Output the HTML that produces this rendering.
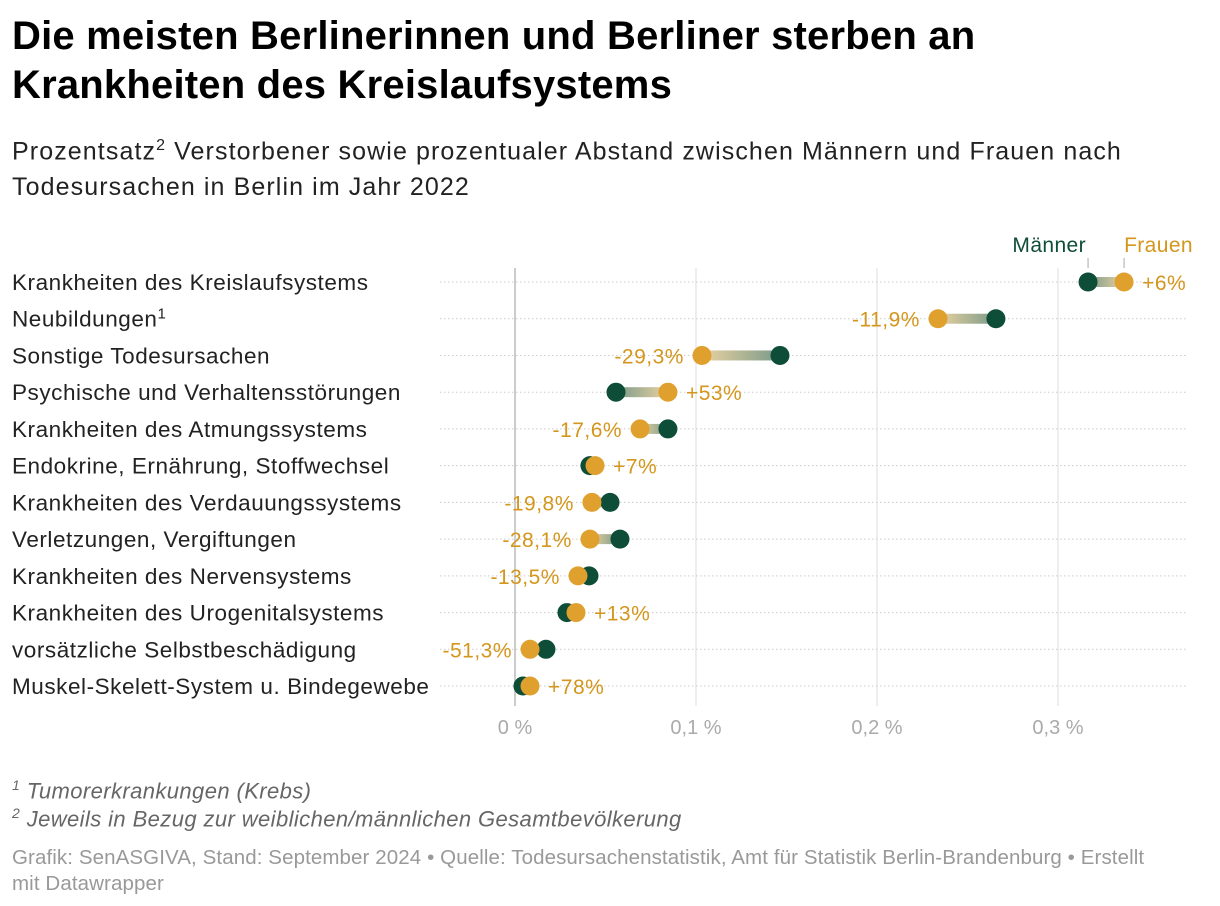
<!DOCTYPE html>
<html><head><meta charset="utf-8"><style>
body{margin:0;width:1220px;height:906px;background:#fff;font-family:"Liberation Sans",sans-serif;overflow:hidden;position:relative}
h1{position:absolute;left:12px;top:12px;margin:0;font-size:40px;line-height:49px;font-weight:bold;color:#000;width:1100px;letter-spacing:0.2px}
.sub{position:absolute;left:12px;top:128px;font-size:25px;line-height:36px;color:#222;width:1200px;letter-spacing:1.1px}
.sub sup{font-size:16px}
.foot{position:absolute;left:12px;font-size:22px;color:#666;font-style:italic;letter-spacing:0.4px}
.foot sup{font-size:14px}
.credit{position:absolute;left:12px;top:845px;font-size:20.5px;line-height:26px;color:#999;width:1200px;letter-spacing:0.1px;white-space:nowrap}
svg{position:absolute;left:0;top:0}
</style></head><body>
<h1>Die meisten Berlinerinnen und Berliner sterben an<br>Krankheiten des Kreislaufsystems</h1>
<div class="sub">Prozentsatz<sup>2</sup> Verstorbener sowie prozentualer Abstand zwischen Männern und Frauen nach<br>Todesursachen in Berlin im Jahr 2022</div>
<svg id="chart" width="1220" height="906"></svg>
<div class="foot" style="top:777px"><sup>1</sup> Tumorerkrankungen (Krebs)</div>
<div class="foot" style="top:805px"><sup>2</sup> Jeweils in Bezug zur weiblichen/männlichen Gesamtbevölkerung</div>
<div class="credit">Grafik: SenASGIVA, Stand: September 2024 • Quelle: Todesursachenstatistik, Amt für Statistik Berlin-Brandenburg • Erstellt<br>mit Datawrapper</div>
<script>
const categories=["Krankheiten des Kreislaufsystems","Neubildungen¹","Sonstige Todesursachen","Psychische und Verhaltensstörungen","Krankheiten des Atmungssystems","Endokrine, Ernährung, Stoffwechsel","Krankheiten des Verdauungssystems","Verletzungen, Vergiftungen","Krankheiten des Nervensystems","Krankheiten des Urogenitalsystems","vorsätzliche Selbstbeschädigung","Muskel-Skelett-System u. Bindegewebe"];
const men=[0.3166,0.2657,0.1464,0.0558,0.0845,0.0414,0.0525,0.058,0.0409,0.0287,0.0171,0.0044];
const women=[0.3365,0.2337,0.1033,0.0845,0.0691,0.0442,0.0425,0.0414,0.0348,0.0337,0.0083,0.0083];
const diffLabels=["+6%","-11,9%","-29,3%","+53%","-17,6%","+7%","-19,8%","-28,1%","-13,5%","+13%","-51,3%","+78%"];
const ticks=[0,0.1,0.2,0.3];
const tickLabels=["0 %","0,1 %","0,2 %","0,3 %"];
const NS="http://www.w3.org/2000/svg";
const svg=document.getElementById('chart');
const x=v=>515+v*1810;
const y=i=>282+i*36.73;
const GREEN="#0e4d38",ORANGE="#e0a02e",OTXT="#d4961c";
function el(t,a){const e=document.createElementNS(NS,t);for(const k in a)e.setAttribute(k,a[k]);svg.appendChild(e);return e;}
const defs=el('defs',{});
ticks.forEach((t,i)=>{
 const l=el('line',{x1:x(t),x2:x(t),y1:268,y2:706,stroke:i==0?'#bbb':'#ddd','stroke-width':i==0?1.5:1});
 
 const tx=el('text',{x:x(t),y:734,'text-anchor':'middle','font-size':20,fill:'#aaa'});tx.textContent=tickLabels[i];
 
});
categories.forEach((c,i)=>{
 const yy=y(i);
 const h=el('line',{x1:440,x2:1186,y1:yy,y2:yy,stroke:'#ccc','stroke-dasharray':'1.5 2.5'});
 
 const lab=el('text',{x:12,y:yy+8,'font-size':22.5,fill:'#222','letter-spacing':0.55});
 if(c.endsWith('¹')){lab.textContent=c.slice(0,-1);const s=document.createElementNS(NS,'tspan');s.setAttribute('dy','-8');s.setAttribute('font-size','15');s.textContent='1';lab.appendChild(s);}else lab.textContent=c;
 
 const xm=x(men[i]),xw=x(women[i]);
 const g=el('linearGradient',{id:'g'+i,gradientUnits:'userSpaceOnUse',x1:xm,x2:xw,y1:0,y2:0});defs.appendChild(g);
 const s1=document.createElementNS(NS,'stop');s1.setAttribute('offset','0');s1.setAttribute('stop-color','#7a9a8a');g.appendChild(s1);
 const s2=document.createElementNS(NS,'stop');s2.setAttribute('offset','1');s2.setAttribute('stop-color','#ead2a0');g.appendChild(s2);
 const bar=el('rect',{x:Math.min(xm,xw),y:yy-5,width:Math.abs(xw-xm),height:10,fill:'url(#g'+i+')'});
 
 const cm=el('circle',{cx:xm,cy:yy,r:9.5,fill:GREEN});
 
 const cw=el('circle',{cx:xw,cy:yy,r:9.5,fill:ORANGE});
 
 const pos=diffLabels[i][0]=='+';
 const t=el('text',{x:pos?Math.max(xm,xw)+18:Math.min(xm,xw)-18,y:yy+8,'text-anchor':pos?'start':'end','font-size':21,fill:OTXT,'letter-spacing':0.5});
 t.textContent=diffLabels[i];
 
});
const lm=el('text',{x:x(men[0])-2,y:252,'text-anchor':'end','font-size':21,fill:GREEN,'letter-spacing':0.4});lm.textContent='Männer';

const lw=el('text',{x:x(women[0]),y:252,'text-anchor':'start','font-size':21,fill:OTXT,'letter-spacing':0.4});lw.textContent='Frauen';

el('line',{x1:x(men[0]),x2:x(men[0]),y1:258,y2:268,stroke:'#aaa'});
el('line',{x1:x(women[0]),x2:x(women[0]),y1:258,y2:268,stroke:'#aaa'});
</script>
</body></html>
